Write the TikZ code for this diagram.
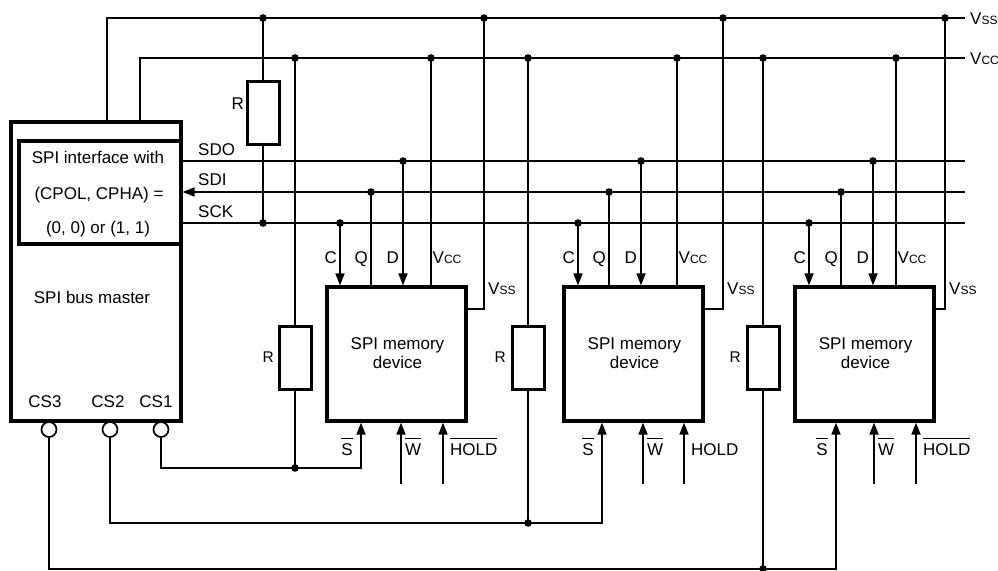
\documentclass[tikz,border=0pt]{standalone}
\usepackage{fontspec}
\setmainfont{Liberation Sans}
\usetikzlibrary{arrows.meta}
\newcommand\ovl[1]{\setbox0=\hbox{#1}\rlap{\rule[16pt]{\wd0}{1.2pt}}\box0}
\newcommand\vsub[1]{{\fontsize{12}{12}\selectfont #1}}
\begin{document}
\begin{tikzpicture}[x=1pt,y=-1pt,
  font=\fontsize{17}{20}\selectfont,
  wire/.style={line width=1.7pt},
  box/.style={draw,line width=3.2pt,inner sep=0pt},
  res/.style={draw,line width=3pt,inner sep=0pt,minimum width=32pt,minimum height=63pt},
  csc/.style={draw,circle,line width=1.7pt,inner sep=0pt,minimum size=15pt},
  arr/.style={line width=1.7pt,-{Triangle[length=12pt,width=9pt]}},
  lbl/.style={inner sep=0pt,anchor=base},
  rlbl/.style={inner sep=0pt,anchor=base east,font=\fontsize{15.5}{17}\selectfont},
  dot/.style={fill}]
\useasboundingbox (0,0) rectangle (998,570);

% master
\node[box,minimum width=170pt,minimum height=299pt] (master) at (96,271.5) {};
\node[box,minimum width=162pt,minimum height=103pt] (iface) at (100,192.5) {};
\node[lbl] (if1) at (98,163) {SPI interface with};
\node[lbl] (if2) at (99,199) {(CPOL, CPHA) =};
\node[lbl] (if3) at (98,233) {(0, 0) or (1, 1)};
\node[lbl] (bm) at (92,303) {SPI bus master};
\node[lbl] (cs3l) at (45,407) {CS3};
\node[lbl] (cs2l) at (108,407) {CS2};
\node[lbl] (cs1l) at (156,407) {CS1};
\node[csc] (cs3) at (49,429.5) {};
\node[csc] (cs2) at (110,429.5) {};
\node[csc] (cs1) at (161,429.5) {};

% rails
\coordinate (mvss) at (107,18); \coordinate (vssE) at (965,18);
\coordinate (mvcc) at (140,58); \coordinate (vccE) at (965,58);
\draw[wire] (mvss |- master.north) -- (mvss) -- (vssE);
\draw[wire] (mvcc |- master.north) -- (mvcc) -- (vccE);
\node[lbl,anchor=base west] (vssl) at (970,24) {V\vsub{SS}};
\node[lbl,anchor=base west] (vccl) at (970,64) {V\vsub{CC}};

% bus
\coordinate (sdoE) at (965,161); \coordinate (sdiE) at (965,192); \coordinate (sckE) at (965,223);
\draw[wire] (sdoE -| master.east) -- (sdoE);
\draw[arr] (sdiE) -- (sdiE -| iface.east);
\draw[wire] (sckE -| master.east) -- (sckE);
\node[lbl,anchor=base west] (sdol) at (198,155) {SDO};
\node[lbl,anchor=base west] (sdil) at (198,185) {SDI};
\node[lbl,anchor=base west] (sckl) at (198,217) {SCK};

% top resistor
\node[res] (Rt) at (263,113) {};
\coordinate (rtv) at (263,18); \coordinate (rts) at (263,223);
\draw[wire] (rtv) -- (Rt.north) (Rt.south) -- (rts);
\node[lbl,anchor=base east] (Rtl) at (244,109) {R};
\fill (rtv) circle (3.8) (rts) circle (3.8);

% devices
\foreach \d/\cx/\c/\q/\dd/\vc/\vs/\s/\w/\h/\hold in {%
  dev1/396.5/340/371/403/431/484/361/401/443/{\ovl{HOLD}},%
  dev2/633.5/578/609/641/677/723/602/643/684/{HOLD},%
  dev3/864.5/809/841/873/896/945/836/874/916/{\ovl{HOLD}}}{
  \node[box,minimum width=139pt,minimum height=134pt] (\d) at (\cx,354) {};
  \node[lbl] (m1\d) at (\cx+1,349) {SPI memory};
  \node[lbl] (m2\d) at (\cx+1,368) {device};
  \coordinate (c\d) at (\c,223);
  \coordinate (q\d) at (\q,192);
  \coordinate (dd\d) at (\dd,161);
  \coordinate (vc\d) at (\vc,58);
  \coordinate (vs\d) at (\vs,18);
  \coordinate (vk\d) at (\vs,309);
  \coordinate (w\d) at (\w,484);
  \coordinate (h\d) at (\h,484);
  \draw[arr] (c\d) -- (c\d |- \d.north);
  \draw[wire] (q\d |- \d.north) -- (q\d);
  \draw[arr] (dd\d) -- (dd\d |- \d.north);
  \draw[wire] (vc\d |- \d.north) -- (vc\d);
  \draw[wire] (vk\d -| \d.east) -- (vk\d) -- (vs\d);
  \draw[arr] (w\d) -- (w\d |- \d.south);
  \draw[arr] (h\d) -- (h\d |- \d.south);
  \fill (c\d) circle (3.8) (q\d) circle (3.8) (dd\d) circle (3.8)
        (vc\d) circle (3.8) (vs\d) circle (3.8);
  \node[lbl,anchor=base east] (lc\d) at (\c-3,263) {C};
  \node[lbl,anchor=base east] (lq\d) at (\q-3,263) {Q};
  \node[lbl,anchor=base east] (ld\d) at (\dd-4,263) {D};
  \node[lbl,anchor=base west] (lv\d) at (\vc+1.5,263) {V\vsub{CC}};
  \node[lbl,anchor=base west] (ls\d) at (\vs+4,294) {V\vsub{SS}};
  \node[lbl,anchor=base east] (lsb\d) at (\s-8,455) {\ovl{S}};
  \node[lbl,anchor=base west] (lw\d) at (\w+4,455) {\ovl{W}};
  \node[lbl,anchor=base west] (lh\d) at (\h+7,455) {\hold};
}

% pull-up resistors on chip selects
\node[res] (R1) at (295,357.5) {};
\node[res] (R2) at (528,357.5) {};
\node[res] (R3) at (763,357.5) {};
\coordinate (r1v) at (295,58); \coordinate (j1) at (295,468);
\coordinate (r2v) at (528,58); \coordinate (j2) at (528,523);
\coordinate (r3v) at (763,58); \coordinate (j3) at (763,569);
\draw[wire] (r1v) -- (R1.north) (R1.south) -- (j1);
\draw[wire] (r2v) -- (R2.north) (R2.south) -- (j2);
\draw[wire] (r3v) -- (R3.north) (R3.south) -- (j3);
\node[rlbl] (R1l) at (274,362) {R};
\node[rlbl] (R2l) at (506,362) {R};
\node[rlbl] (R3l) at (741,362) {R};

% chip select lines
\coordinate (s1c) at (361,468);
\coordinate (s2c) at (602,523);
\coordinate (s3c) at (836,569);
\draw[arr] (cs1.south) |- (s1c) -- (s1c |- dev1.south);
\draw[arr] (cs2.south) |- (s2c) -- (s2c |- dev2.south);
\draw[arr] (cs3.south) |- (s3c) -- (s3c |- dev3.south);
\fill (r1v) circle (3.8) (r2v) circle (3.8) (r3v) circle (3.8)
      (j1) circle (3.8) (j2) circle (3.8) (j3) circle (3.8);
\end{tikzpicture}
\end{document}
